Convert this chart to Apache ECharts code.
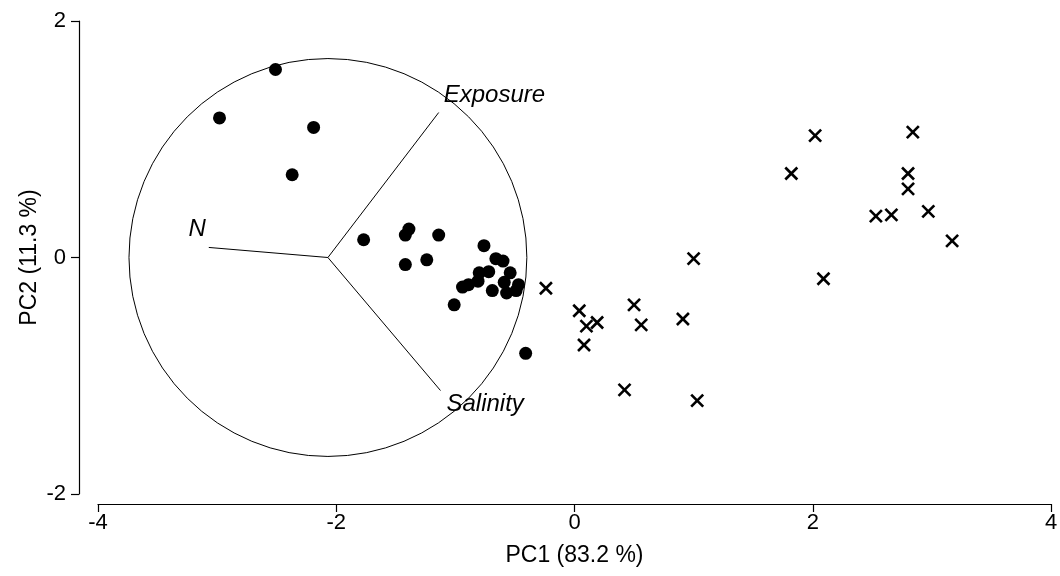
<!DOCTYPE html>
<html>
<head>
<meta charset="utf-8">
<script src="https://cdn.jsdelivr.net/npm/echarts@6/dist/echarts.min.js"></script>
<style>html,body{margin:0;padding:0;background:#fff}#c{width:1060px;height:576px}</style>
</head>
<body>
<div id="c"></div>
<script>
// Group 1 (filled dots): PC1, PC2 scores
var dotsX = [-2.51,-2.98,-2.19,-2.37,-1.77,-1.39,-1.42,-1.14,-1.42,-1.24,-0.76,-0.66,-0.60,-0.54,-0.72,-0.80,-0.81,-0.89,-0.94,-0.59,-0.47,-0.49,-0.69,-0.57,-1.01,-0.41];
var dotsY = [1.59,1.18,1.10,0.70,0.15,0.24,0.19,0.19,-0.06,-0.02,0.10,-0.01,-0.03,-0.13,-0.12,-0.13,-0.20,-0.23,-0.25,-0.21,-0.23,-0.28,-0.28,-0.30,-0.40,-0.81];
// Group 2 (crosses): PC1, PC2 scores
var crossX = [1.00,-0.24,0.04,0.10,0.19,0.50,0.56,0.91,0.08,0.42,1.03,2.02,2.84,1.82,2.80,2.80,2.53,2.66,2.97,3.17,2.09];
var crossY = [-0.01,-0.26,-0.45,-0.58,-0.55,-0.40,-0.57,-0.52,-0.74,-1.12,-1.21,1.03,1.06,0.71,0.71,0.58,0.35,0.36,0.39,0.14,-0.18];
// Correlation circle (centre in PC units, radius in PC1 units)
var circleCenter = [-2.07, 0.0];
var circleRadius = 1.67;
// Variable loadings (end points of vectors, PC units)
var loadNames = ['Exposure','N','Salinity'];
var loadX = [-1.14,-3.07,-1.125];
var loadY = [1.226,0.085,-1.125];
// Tick labels
var xTicks = [-4,-2,0,2,4];
var yTicks = [-2,0,2];

var FONT = '"Liberation Sans", Arial, sans-serif';
var labelOffsets = {
  'Exposure': {dx: 5, dy: -17, align: 'left'},
  'N': {dx: -3, dy: -18, align: 'right'},
  'Salinity': {dx: 6, dy: 14, align: 'left'}
};

var dotData = dotsX.map(function(x,i){return [x, dotsY[i]];});
var crossData = crossX.map(function(x,i){return [x, crossY[i]];});
var loadData = loadNames.map(function(n,i){return {name:n, value:[loadX[i], loadY[i]]};});

var chart = echarts.init(document.getElementById('c'), null, {renderer:'canvas'});
var axisCommon = {
  type: 'value',
  axisLine: {show:true, onZero:false, lineStyle:{color:'#000', width:1.2}},
  axisTick: {show:true, inside:false, length:8, lineStyle:{color:'#000', width:1.2}},
  splitLine: {show:false},
  axisLabel: {color:'#000', fontSize:22, fontFamily:FONT, showMinLabel:true, showMaxLabel:true},
  nameTextStyle: {color:'#000', fontSize:23, fontFamily:FONT},
  nameLocation: 'middle',
  nameMoveOverlap: false
};
var option = {
  animation: false,
  backgroundColor: '#fff',
  grid: {left:98, right:9, top:21, bottom:82, containLabel:false, outerBoundsMode:'none'},
  xAxis: Object.assign({}, axisCommon, {
    min: xTicks[0], max: xTicks[xTicks.length-1], interval: 2, offset: 10,
    name: 'PC1 (83.2 %)', nameGap: 40,
    axisLabel: Object.assign({}, axisCommon.axisLabel, {margin:8})
  }),
  yAxis: Object.assign({}, axisCommon, {
    min: yTicks[0], max: yTicks[yTicks.length-1], interval: 2, offset: 19,
    name: 'PC2 (11.3 %)', nameGap: 38, nameRotate: 90,
    axisLabel: Object.assign({}, axisCommon.axisLabel, {margin:13})
  }),
  series: [
    {
      type: 'custom', name:'circle', silent:true, clip:false,
      data: [[circleCenter[0], circleCenter[1], circleRadius]],
      renderItem: function(params, api){
        var c = api.coord([api.value(0), api.value(1)]);
        var r = api.size([api.value(2), 0])[0];
        return {type:'circle', shape:{cx:c[0], cy:c[1], r:r}, style:{fill:'none', stroke:'#000', lineWidth:1}};
      },
      z: 1
    },
    {
      type: 'custom', name:'loadings', silent:true, clip:false,
      data: loadData,
      renderItem: function(params, api){
        var c = api.coord(circleCenter);
        var e = api.coord([api.value(0), api.value(1)]);
        var nm = loadNames[params.dataIndex];
        var o = labelOffsets[nm];
        return {type:'group', children:[
          {type:'line', shape:{x1:c[0], y1:c[1], x2:e[0], y2:e[1]}, style:{stroke:'#000', lineWidth:1}},
          {type:'text', style:{text:nm, x:e[0]+o.dx, y:e[1]+o.dy, fill:'#000', font:'italic 24px '+FONT, align:o.align, verticalAlign:'middle'}}
        ]};
      },
      z: 2
    },
    {
      type: 'scatter', name:'group1', data: dotData,
      symbol: 'circle', symbolSize: 13,
      itemStyle: {color:'#000', opacity:1}, z: 3
    },
    {
      type: 'custom', name:'group2', data: crossData, clip:false,
      renderItem: function(params, api){
        var p = api.coord([api.value(0), api.value(1)]);
        var h = 6;
        var st = {stroke:'#000', lineWidth:2.6};
        return {type:'group', children:[
          {type:'line', shape:{x1:p[0]-h, y1:p[1]-h, x2:p[0]+h, y2:p[1]+h}, style:st},
          {type:'line', shape:{x1:p[0]-h, y1:p[1]+h, x2:p[0]+h, y2:p[1]-h}, style:st}
        ]};
      },
      z: 3
    }
  ]
};
chart.setOption(option);
</script>
</body>
</html>
